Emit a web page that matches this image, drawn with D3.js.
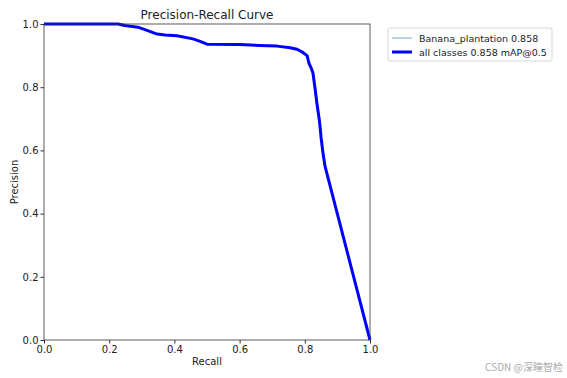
<!DOCTYPE html>
<html>
<head>
<meta charset="utf-8">
<script src="https://cdn.jsdelivr.net/npm/d3@7"></script>
<style>
body{margin:0;background:#fff;}
text{font-family:"DejaVu Sans",sans-serif;fill:#222;}
</style>
</head>
<body>
<div id="idChart"></div>
<script>
// curve points
var aRecall=[0,0.227,0.248,0.288,0.316,0.347,0.371,0.408,0.457,0.479,0.5,0.60,0.66,0.715,0.755,0.776,0.794,0.807,0.813,0.819,0.825,0.831,0.837,0.844,0.847,0.85,0.856,0.862,1.0];
var aPrecision=[1.0,1.0,0.995,0.99,0.98,0.968,0.965,0.963,0.953,0.945,0.936,0.935,0.932,0.93,0.925,0.92,0.91,0.90,0.875,0.862,0.845,0.80,0.75,0.70,0.674,0.64,0.59,0.55,0.0];
var aTicks=[0,0.2,0.4,0.6,0.8,1.0];
var aLegend=["Banana_plantation 0.858","all classes 0.858 mAP@0.5"];

var iWidth=567, iHeight=378;
var oMargin={left:44,top:24,right:197,bottom:38};

var mySvg=d3.select("#idChart").append("svg")
	.attr("width",iWidth)
	.attr("height",iHeight);

var xScale=d3.scaleLinear().domain([0,1]).range([oMargin.left,iWidth-oMargin.right]);
var yScale=d3.scaleLinear().domain([0,1]).range([iHeight-oMargin.bottom,oMargin.top]);

var myPoints=aRecall.map(function(r,i){return [r,aPrecision[i]];});
var myLine=d3.line()
	.x(function(d){return xScale(d[0]);})
	.y(function(d){return yScale(d[1]);});

mySvg.append("path")
	.datum(myPoints)
	.attr("d",myLine)
	.attr("fill","none")
	.attr("stroke","#6fa8dc")
	.attr("stroke-width",1);

mySvg.append("path")
	.datum(myPoints)
	.attr("d",myLine)
	.attr("fill","none")
	.attr("stroke","#0000ff")
	.attr("stroke-width",3)
	.attr("stroke-linejoin","round");

var fmt=d3.format(".1f");
var xAxis=mySvg.append("g")
	.attr("transform","translate(0,"+yScale(0)+")")
	.call(d3.axisBottom(xScale).tickValues(aTicks).tickFormat(fmt).tickSize(3.5).tickPadding(2));
var yAxis=mySvg.append("g")
	.attr("transform","translate("+xScale(0)+",0)")
	.call(d3.axisLeft(yScale).tickValues(aTicks).tickFormat(fmt).tickSize(3.5).tickPadding(2));

[xAxis,yAxis].forEach(function(g){
	g.select(".domain").remove();
	g.selectAll("line").attr("stroke","#333");
	g.selectAll("text").style("font-size","10px").attr("fill","#222");
});

// frame
mySvg.append("rect")
	.attr("x",xScale(0)).attr("y",yScale(1))
	.attr("width",xScale(1)-xScale(0))
	.attr("height",yScale(0)-yScale(1))
	.attr("fill","none").attr("stroke","#333").attr("stroke-width",0.8);

mySvg.append("text")
	.attr("x",(xScale(0)+xScale(1))/2).attr("y",19)
	.attr("text-anchor","middle").style("font-size","12px")
	.text("Precision-Recall Curve");

mySvg.append("text")
	.attr("x",(xScale(0)+xScale(1))/2).attr("y",iHeight-13)
	.attr("text-anchor","middle").style("font-size","10px")
	.text("Recall");

mySvg.append("text")
	.attr("transform","translate(18,"+((yScale(0)+yScale(1))/2)+") rotate(-90)")
	.attr("text-anchor","middle").style("font-size","10px")
	.text("Precision");

// legend
var myLegend=mySvg.append("g").attr("transform","translate(388,28)");
myLegend.append("rect")
	.attr("width",164).attr("height",33).attr("rx",2)
	.attr("fill","#fff").attr("stroke","#ccc").attr("stroke-width",0.8);
aLegend.forEach(function(s,i){
	var y=10+i*14;
	myLegend.append("line")
		.attr("x1",4).attr("x2",24).attr("y1",y).attr("y2",y)
		.attr("stroke",i==0?"#6fa8dc":"#0000ff")
		.attr("stroke-width",i==0?1:3);
	myLegend.append("text")
		.attr("x",31).attr("y",y+3.5)
		.style("font-size","9.5px")
		.text(s);
});

// watermark
mySvg.append("text")
	.attr("x",563).attr("y",371)
	.attr("text-anchor","end")
	.style("font-size","10px")
	.style("font-family","'Noto Sans CJK SC',sans-serif")
	.attr("fill","#aaa").style("fill","#aaa")
	.text("CSDN @深瞳智检");
</script>
</body>
</html>
